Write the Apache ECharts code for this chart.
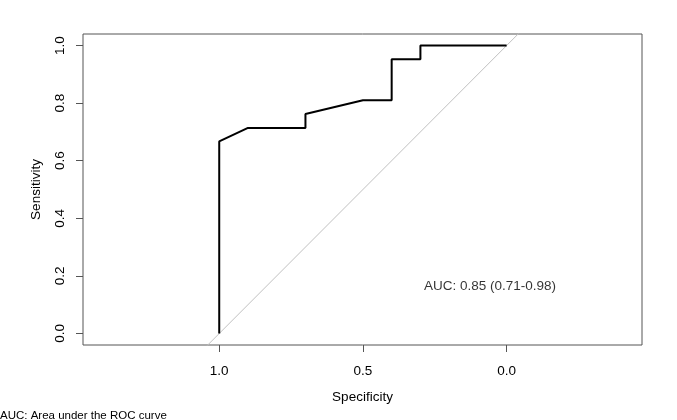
<!DOCTYPE html>
<html>
<head>
<meta charset="utf-8">
<script src="https://cdn.jsdelivr.net/npm/echarts@6/dist/echarts.min.js"></script>
<style>html,body{margin:0;padding:0;background:#fff}#c{width:677px;height:420px}</style>
</head>
<body>
<div id="c"></div>
<script>
// ROC curve points (specificity, sensitivity)
var specificity = [1.0, 1.0, 0.9, 0.7, 0.7, 0.5, 0.4, 0.4, 0.3, 0.3, 0.0];
var sensitivity = [0.0, 0.667, 0.714, 0.714, 0.762, 0.810, 0.810, 0.952, 0.952, 1.0, 1.0];
// chance diagonal (sens = 1 - spec), clipped to plot
var diagSpec = [1.5, -0.5];
var diagSens = [-0.5, 1.5];
var xTicks = [1.0, 0.5, 0.0];
var yTicks = [0.0, 0.2, 0.4, 0.6, 0.8, 1.0];
var aucText = 'AUC: 0.85 (0.71-0.98)';
var aucPos = [0.058, 0.164];
var footnote = 'AUC: Area under the ROC curve';

var FONT = '"Liberation Sans", Arial, sans-serif';
var chart = echarts.init(document.getElementById('c'), null, {renderer: 'canvas'});
chart.setOption({
  animation: false,
  backgroundColor: '#fff',
  grid: {left: 83, top: 34, right: 35, bottom: 75, show: true, borderColor: '#555', borderWidth: 1, backgroundColor: 'transparent'},
  xAxis: {
    type: 'value', inverse: true, min: -0.471, max: 1.474,
    name: 'Specificity', nameLocation: 'middle', nameGap: 45,
    nameTextStyle: {fontFamily: FONT, fontSize: 13.5, color: '#000'},
    splitLine: {show: false},
    axisLine: {show: false, onZero: false},
    axisTick: {show: true, inside: false, length: 7, lineStyle: {color: '#555'}, customValues: xTicks},
    axisLabel: {show: true, margin: 19, fontFamily: FONT, fontSize: 13.5, color: '#000', customValues: xTicks,
      formatter: function (v) { return v.toFixed(1); }}
  },
  yAxis: {
    type: 'value', min: -0.04, max: 1.04,
    name: 'Sensitivity', nameLocation: 'middle', nameGap: 40, nameRotate: 90,
    nameTextStyle: {fontFamily: FONT, fontSize: 13.5, color: '#000'},
    splitLine: {show: false},
    axisLine: {show: false, onZero: false},
    axisTick: {show: true, inside: false, length: 7, lineStyle: {color: '#555'}, customValues: yTicks},
    axisLabel: {show: true, rotate: 90, margin: 16, fontFamily: FONT, fontSize: 13.5, color: '#000', customValues: yTicks,
      align: 'center', verticalAlign: 'bottom',
      formatter: function (v) { return v.toFixed(1); }}
  },
  series: [
    {
      type: 'line', data: diagSpec.map(function (s, i) { return [s, diagSens[i]]; }),
      symbol: 'none', clip: true, lineStyle: {color: '#c0c0c0', width: 1}, z: 1
    },
    {
      type: 'line', data: specificity.map(function (s, i) { return [s, sensitivity[i]]; }),
      symbol: 'none', clip: true, lineStyle: {color: '#000', width: 2}, z: 2
    },
    {
      type: 'scatter', data: [aucPos], symbolSize: 0,
      label: {show: true, position: 'inside', formatter: aucText, fontFamily: FONT, fontSize: 13.5, color: '#000'}
    }
  ],
  graphic: [
    {type: 'text', left: 0, top: 410, style: {text: footnote, font: '11.5px ' + FONT, fill: '#000'}}
  ]
});
</script>
</body>
</html>
